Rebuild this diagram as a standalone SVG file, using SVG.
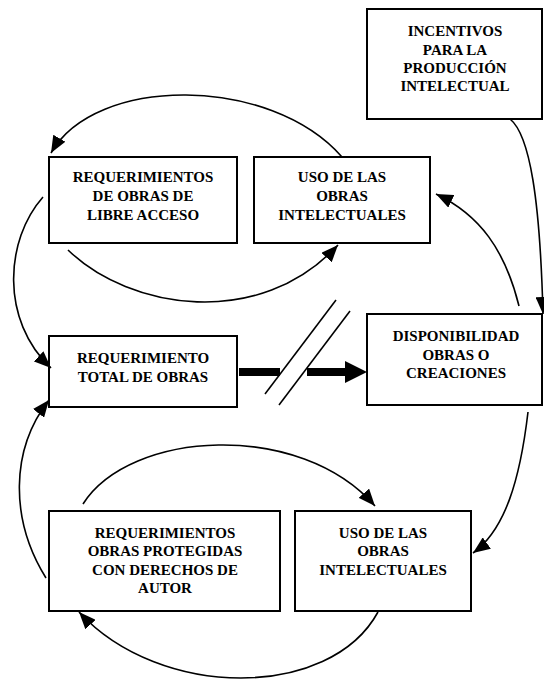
<svg xmlns="http://www.w3.org/2000/svg" width="544" height="680" viewBox="0 0 544 680">
<style>
.box{fill:#fff;stroke:#000;stroke-width:2}
.t{font-family:"Liberation Serif","Times New Roman",serif;font-weight:bold;font-size:15px;text-anchor:middle;fill:#000}
.c{fill:none;stroke:#000;stroke-width:1.6}
.s{stroke:#000;stroke-width:1.6}
</style>
<defs>
<marker id="ah" markerUnits="userSpaceOnUse" markerWidth="18" markerHeight="14" refX="17" refY="7" orient="auto">
<path d="M0,0 L17,7 L0,14 Z" fill="#000"/>
</marker>
</defs>
<rect width="544" height="680" fill="#fff"/>
<g id="incentivos">
<rect class="box" x="367" y="9" width="175" height="110"/>
<text class="t" x="455" y="36">INCENTIVOS</text>
<text class="t" x="455" y="55">PARA LA</text>
<text class="t" x="455" y="73">PRODUCCIÓN</text>
<text class="t" x="455" y="91">INTELECTUAL</text>
</g>
<g id="req-libre">
<rect class="box" x="49" y="157" width="188" height="86"/>
<text class="t" x="143" y="182">REQUERIMIENTOS</text>
<text class="t" x="143" y="201">DE OBRAS DE</text>
<text class="t" x="143" y="220">LIBRE ACCESO</text>
</g>
<g id="uso-top">
<rect class="box" x="254" y="157" width="176" height="86"/>
<text class="t" x="342" y="182">USO DE LAS</text>
<text class="t" x="342" y="201">OBRAS</text>
<text class="t" x="342" y="220">INTELECTUALES</text>
</g>
<g id="req-total">
<rect class="box" x="49" y="336" width="188" height="71"/>
<text class="t" x="143" y="363">REQUERIMIENTO</text>
<text class="t" x="143" y="382">TOTAL DE OBRAS</text>
</g>
<g id="disponibilidad">
<rect class="box" x="367" y="314" width="175" height="91"/>
<text class="t" x="456" y="341">DISPONIBILIDAD</text>
<text class="t" x="456" y="360">OBRAS O</text>
<text class="t" x="456" y="378">CREACIONES</text>
</g>
<g id="req-protegidas">
<rect class="box" x="49" y="511" width="231" height="100"/>
<text class="t" x="165" y="538">REQUERIMIENTOS</text>
<text class="t" x="165" y="556">OBRAS PROTEGIDAS</text>
<text class="t" x="165" y="575">CON DERECHOS DE</text>
<text class="t" x="165" y="593">AUTOR</text>
</g>
<g id="uso-bottom">
<rect class="box" x="295" y="511" width="176" height="100"/>
<text class="t" x="383" y="538">USO DE LAS</text>
<text class="t" x="383" y="556">OBRAS</text>
<text class="t" x="383" y="575">INTELECTUALES</text>
</g>
<g id="connectors">
<path class="c" d="M342,157 C270,75 95,75 51,153" marker-end="url(#ah)"/>
<path class="c" d="M43,197 C5,240 0,320 51,368" marker-end="url(#ah)"/>
<path class="c" d="M68,250 C130,310 260,330 338,245" marker-end="url(#ah)"/>
<path class="c" d="M510,119 C530,135 540,200 543,314" marker-end="url(#ah)"/>
<path class="c" d="M519,306 C505,250 480,215 436,194" marker-end="url(#ah)"/>
<path class="c" d="M528,412 C520,480 505,530 473,553" marker-end="url(#ah)"/>
<path class="c" d="M83,504 C130,430 300,420 375,506" marker-end="url(#ah)"/>
<path class="c" d="M378,612 C330,700 160,700 79,612" marker-end="url(#ah)"/>
<path class="c" d="M46,578 C10,520 10,450 49,400" marker-end="url(#ah)"/>
<rect x="239" y="368" width="41" height="8" fill="#000"/>
<rect x="307" y="368" width="39" height="8" fill="#000"/>
<path d="M345,361 L367,372 L345,383 Z" fill="#000"/>
<line class="s" x1="336" y1="300" x2="265" y2="394"/>
<line class="s" x1="350" y1="311" x2="279" y2="405"/>
</g>
</svg>
